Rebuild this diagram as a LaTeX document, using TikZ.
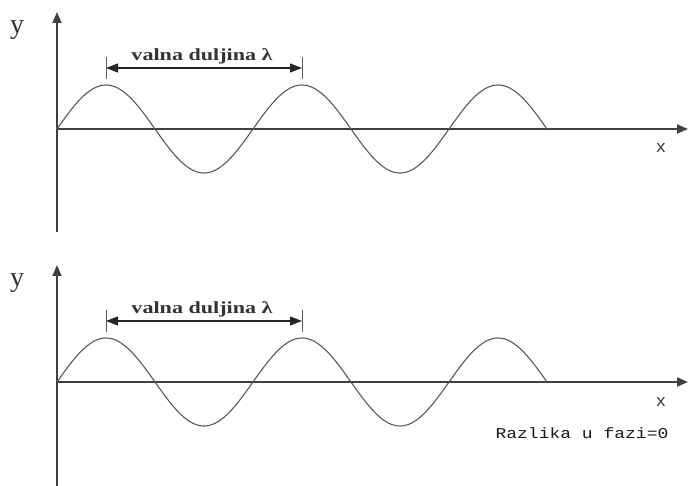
\documentclass[tikz,border=0pt]{standalone}
\usepackage{fontspec}
\setmainfont{Liberation Serif}
\newfontfamily\monofont{Liberation Mono}
\usetikzlibrary{arrows.meta}
\begin{document}
\begin{tikzpicture}[x=1pt,y=-1pt,
  axis/.style={draw=black!75, line width=1.8pt, -{Triangle[length=11pt,width=9pt]}},
  wave/.style={draw=black!65, line width=1.1pt},
  dimline/.style={draw=black!85, line width=1.3pt, {Triangle[length=12pt,width=9pt]}-{Triangle[length=12pt,width=9pt]}},
  tickmark/.style={draw=black!65, line width=1pt},
  ylab/.style={font=\fontsize{28}{28}\selectfont, inner sep=0pt, text=black!80},
  xlab/.style={font=\monofont\fontsize{17}{17}\selectfont, inner sep=0pt, text=black!80},
  wlab/.style={font=\bfseries\fontsize{17}{17}\selectfont, inner sep=0pt, text=black!80},
  note/.style={font=\monofont\fontsize{15}{15}\selectfont, inner sep=0pt, text=black!90}]
\useasboundingbox (0,0) rectangle (688,486);
% ---------- top panel ----------
\begin{scope}
  \coordinate (t-ybot) at (57,232);
  \coordinate (t-ytop) at (57,12);
  \coordinate (t-o) at (57,129);
  \coordinate (t-xend) at (688,129);
  \draw[axis] (t-ybot) -- (t-ytop);
  \draw[axis] (t-o) -- (t-xend);
  \draw[wave] plot[domain=0:490, samples=240] ({57+\x},{129-44*sin(\x/196*360)});
  \coordinate (t-l) at (106,68);
  \coordinate (t-r) at (302,68);
  \draw[tickmark] (106,57) -- (106,79);
  \draw[tickmark] (302,57) -- (302,79);
  \draw[dimline] (t-l) -- (t-r);
  \node[wlab] (t-wl) at (202,56) {\scalebox{1.3}[1]{valna duljina λ}};
  \node[ylab] (t-y) at (17,30) {y};
  \node[xlab] (t-x) at (661,148) {x};
\end{scope}
% ---------- bottom panel ----------
\begin{scope}
  \coordinate (b-ybot) at (57,486);
  \coordinate (b-ytop) at (57,265);
  \coordinate (b-o) at (57,382);
  \coordinate (b-xend) at (688,382);
  \draw[axis] (b-ybot) -- (b-ytop);
  \draw[axis] (b-o) -- (b-xend);
  \draw[wave] plot[domain=0:490, samples=240] ({57+\x},{382-44*sin(\x/196*360)});
  \coordinate (b-l) at (106,321);
  \coordinate (b-r) at (302,321);
  \draw[tickmark] (106,310) -- (106,332);
  \draw[tickmark] (302,310) -- (302,332);
  \draw[dimline] (b-l) -- (b-r);
  \node[wlab] (b-wl) at (202,309) {\scalebox{1.3}[1]{valna duljina λ}};
  \node[ylab] (b-y) at (17,283) {y};
  \node[xlab] (b-x) at (661,402) {x};
  \node[note] (b-note) at (582,433) {\scalebox{1.2}[1]{Razlika u fazi=0}};
\end{scope}
\end{tikzpicture}
\end{document}
